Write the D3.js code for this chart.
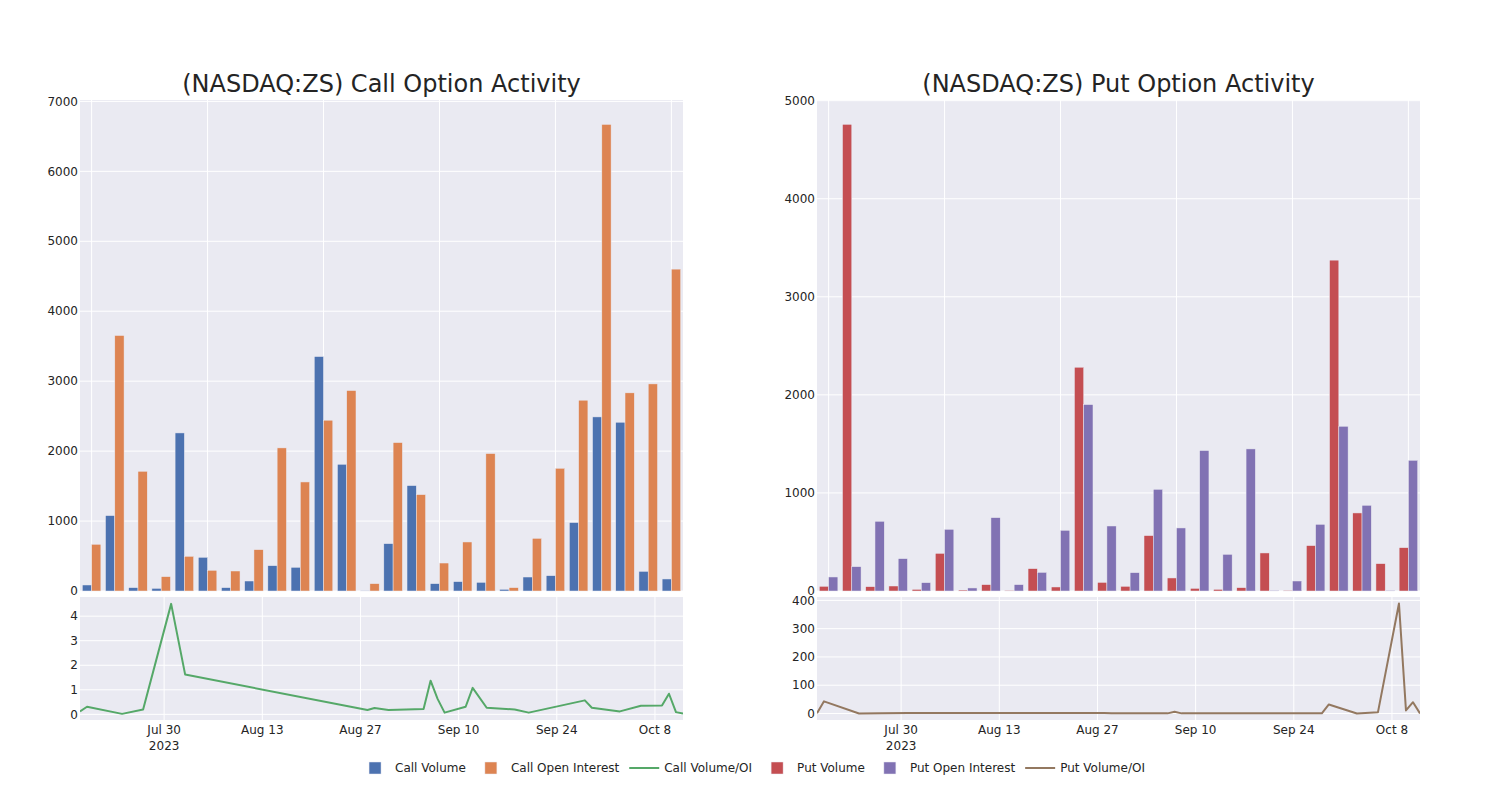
<!DOCTYPE html>
<html>
<head>
<meta charset="utf-8">
<script src="https://cdn.jsdelivr.net/npm/d3@7"></script>
<style>
  html, body { margin: 0; padding: 0; background: #fff; }
  svg { display: block; font-family: "DejaVu Sans", sans-serif; }
</style>
</head>
<body>
<svg id="chart" width="1500" height="800"></svg>
<script>
// ---------- data ----------
const dates = ["2023-07-18","2023-07-19","2023-07-24","2023-07-27","2023-07-31","2023-08-02",
  "2023-08-28","2023-08-29","2023-08-31","2023-09-05","2023-09-06","2023-09-07","2023-09-08",
  "2023-09-11","2023-09-12","2023-09-14","2023-09-18","2023-09-20","2023-09-28","2023-09-29",
  "2023-10-03","2023-10-06","2023-10-09","2023-10-10","2023-10-11","2023-10-12"];

const callVolume = [86,1078,48,38,2260,482,48,143,362,339,3352,1812,5,677,1507,105,134,124,24,200,219,978,2489,2413,281,172];
const callOpenInterest = [668,3653,1712,205,496,296,286,591,2046,1559,2442,2866,105,2122,1378,400,701,1965,48,753,1755,2728,6671,2833,2961,4602];
const callRatio = [0.12,0.31,0.02,0.2,4.5,1.62,0.18,0.26,0.18,0.22,1.37,0.63,0.07,0.31,1.08,0.27,0.2,0.07,0.57,0.27,0.12,0.35,0.36,0.84,0.09,0.03];

const putVolume = [48,4759,44,51,17,384,10,65,7,228,41,2282,88,48,565,133,27,17,34,388,7,463,3374,796,279,442];
const putOpenInterest = [143,248,711,330,85,629,31,748,65,190,619,1901,663,187,1037,643,1432,374,1449,7,102,680,1680,874,7,1333];
const putRatio = [1,43,0,1,1.5,2,1.5,1,1,1,0.5,6,0.5,0.5,0.5,0.5,0.5,0.5,0.5,32,0,4,389,11,40,0];

const callYTicks = [0,1000,2000,3000,4000,5000,6000,7000];
const putYTicks = [0,1000,2000,3000,4000,5000];
const callRatioTicks = [0,1,2,3,4];
const putRatioTicks = [0,100,200,300,400];
const dateTicks = ["2023-07-30","2023-08-13","2023-08-27","2023-09-10","2023-09-24","2023-10-08"];
const dateDomain = ["2023-07-18","2023-10-12"];

const titles = ["(NASDAQ:ZS) Call Option Activity", "(NASDAQ:ZS) Put Option Activity"];
const legendItems = [
  {name:"Call Volume", type:"bar", color:"rgb(76,114,176)"},
  {name:"Call Open Interest", type:"bar", color:"rgb(221,132,82)"},
  {name:"Call Volume/OI", type:"line", color:"rgb(85,168,104)"},
  {name:"Put Volume", type:"bar", color:"rgb(196,78,82)"},
  {name:"Put Open Interest", type:"bar", color:"rgb(129,114,179)"},
  {name:"Put Volume/OI", type:"line", color:"rgb(147,120,96)"}
];

// ---------- layout ----------
const BG = "rgb(234,234,242)";
const TXT = "rgb(36,36,36)";
const parse = d3.timeParse("%Y-%m-%d");
const svg = d3.select("#chart");

const panels = [
  {x0:80, x1:683, vol:callVolume, oi:callOpenInterest, ratio:callRatio, yTicks:callYTicks, yMax:7020,
   rTicks:callRatioTicks, rDomain:[-0.23,4.78], colors:[legendItems[0].color, legendItems[1].color, legendItems[2].color], title:titles[0]},
  {x0:817, x1:1420, vol:putVolume, oi:putOpenInterest, ratio:putRatio, yTicks:putYTicks, yMax:5007,
   rTicks:putRatioTicks, rDomain:[-23,412], colors:[legendItems[3].color, legendItems[4].color, legendItems[5].color], title:titles[1]}
];
const top0 = 100, top1 = 591, bot0 = 597, bot1 = 720;

panels.forEach((p, pi) => {
  const g = svg.append("g");
  // ---- top bar plot ----
  g.append("rect").attr("x", p.x0).attr("y", top0).attr("width", p.x1 - p.x0).attr("height", top1 - top0).attr("fill", BG);
  const xb = d3.scaleBand().domain(dates).range([p.x0, p.x1]).paddingInner(0).paddingOuter(0);
  const xs = d3.scaleBand().domain(["vol","oi"]).range([xb.bandwidth()*0.1, xb.bandwidth()*0.9]);
  const y = d3.scaleLinear().domain([0, p.yMax]).range([top1, top0]);

  // gridlines
  g.append("g").selectAll("line").data(p.yTicks).join("line")
    .attr("x1", p.x0).attr("x2", p.x1).attr("y1", d => y(d)).attr("y2", d => y(d))
    .attr("stroke", "#fff").attr("stroke-width", 1);
  g.append("g").selectAll("line").data(dates.filter((d,i) => i % 5 === 0)).join("line")
    .attr("x1", d => xb(d) + xb.bandwidth()/2).attr("x2", d => xb(d) + xb.bandwidth()/2)
    .attr("y1", top0).attr("y2", top1).attr("stroke", "#fff").attr("stroke-width", 1);

  // bars
  const series = [{key:"vol", vals:p.vol, color:p.colors[0]}, {key:"oi", vals:p.oi, color:p.colors[1]}];
  series.forEach(s => {
    g.append("g").selectAll("rect").data(dates).join("rect")
      .attr("x", d => xb(d) + xs(s.key))
      .attr("width", xs.bandwidth())
      .attr("y", (d,i) => y(s.vals[i]))
      .attr("height", (d,i) => y(0) - y(s.vals[i]))
      .attr("fill", s.color)
      .attr("stroke", BG).attr("stroke-width", 0.5);
  });

  // y axis labels
  g.append("g").selectAll("text").data(p.yTicks).join("text")
    .attr("x", p.x0 - 2).attr("y", d => y(d)).attr("dy", "0.35em")
    .attr("text-anchor", "end").attr("font-size", 12).attr("fill", TXT).text(d => d);

  // title
  g.append("text").attr("x", (p.x0 + p.x1)/2).attr("y", 92).attr("text-anchor", "middle")
    .attr("font-size", 24).attr("fill", TXT).text(p.title);

  // ---- bottom ratio plot ----
  g.append("rect").attr("x", p.x0).attr("y", bot0).attr("width", p.x1 - p.x0).attr("height", bot1 - bot0).attr("fill", BG);
  const xt = d3.scaleTime().domain(dateDomain.map(parse)).range([p.x0, p.x1]);
  const yr = d3.scaleLinear().domain(p.rDomain).range([bot1, bot0]);
  g.append("g").selectAll("line").data(p.rTicks).join("line")
    .attr("x1", p.x0).attr("x2", p.x1).attr("y1", d => yr(d)).attr("y2", d => yr(d))
    .attr("stroke", "#fff").attr("stroke-width", 1);
  g.append("g").selectAll("line").data(dateTicks).join("line")
    .attr("x1", d => xt(parse(d))).attr("x2", d => xt(parse(d)))
    .attr("y1", bot0).attr("y2", bot1).attr("stroke", "#fff").attr("stroke-width", 1);

  const clipId = "clip" + pi;
  svg.append("clipPath").attr("id", clipId).append("rect")
    .attr("x", p.x0).attr("y", bot0).attr("width", p.x1 - p.x0).attr("height", bot1 - bot0);
  const line = d3.line().x((d,i) => xt(parse(dates[i]))).y(d => yr(d));
  g.append("path").datum(p.ratio).attr("d", line).attr("fill", "none")
    .attr("stroke", p.colors[2]).attr("stroke-width", 2).attr("stroke-linejoin", "round")
    .attr("clip-path", `url(#${clipId})`);

  g.append("g").selectAll("text").data(p.rTicks).join("text")
    .attr("x", p.x0 - 2).attr("y", d => yr(d)).attr("dy", "0.35em")
    .attr("text-anchor", "end").attr("font-size", 12).attr("fill", TXT).text(d => d);

  const fmt = d3.timeFormat("%b %-d");
  const xl = g.append("g").selectAll("text").data(dateTicks).join("text")
    .attr("x", d => xt(parse(d))).attr("y", 734)
    .attr("text-anchor", "middle").attr("font-size", 12).attr("fill", TXT);
  xl.append("tspan").attr("x", d => xt(parse(d))).text(d => fmt(parse(d)));
  xl.filter((d,i) => i === 0).append("tspan").attr("x", d => xt(parse(d))).attr("dy", 16).text(d => d3.timeFormat("%Y")(parse(d)));
});

// ---------- legend ----------
const lg = svg.append("g");
let cx = 0;
const ly = 768;
legendItems.forEach(it => {
  const ig = lg.append("g").attr("transform", `translate(${cx},0)`);
  if (it.type === "bar") {
    ig.append("rect").attr("x", 14).attr("y", ly - 6).attr("width", 12).attr("height", 12)
      .attr("fill", it.color).attr("stroke", BG).attr("stroke-width", 0.5);
  } else {
    ig.append("line").attr("x1", 5).attr("x2", 35).attr("y1", ly).attr("y2", ly)
      .attr("stroke", it.color).attr("stroke-width", 2);
  }
  const t = ig.append("text").attr("x", 40).attr("y", ly).attr("dy", "0.35em")
    .attr("font-size", 12).attr("fill", TXT).text(it.name);
  const w = t.node().getComputedTextLength();
  cx += 40 + w + 5;
});
const totalW = cx - 5;
lg.attr("transform", `translate(${750 - totalW/2},0)`);
</script>
</body>
</html>
